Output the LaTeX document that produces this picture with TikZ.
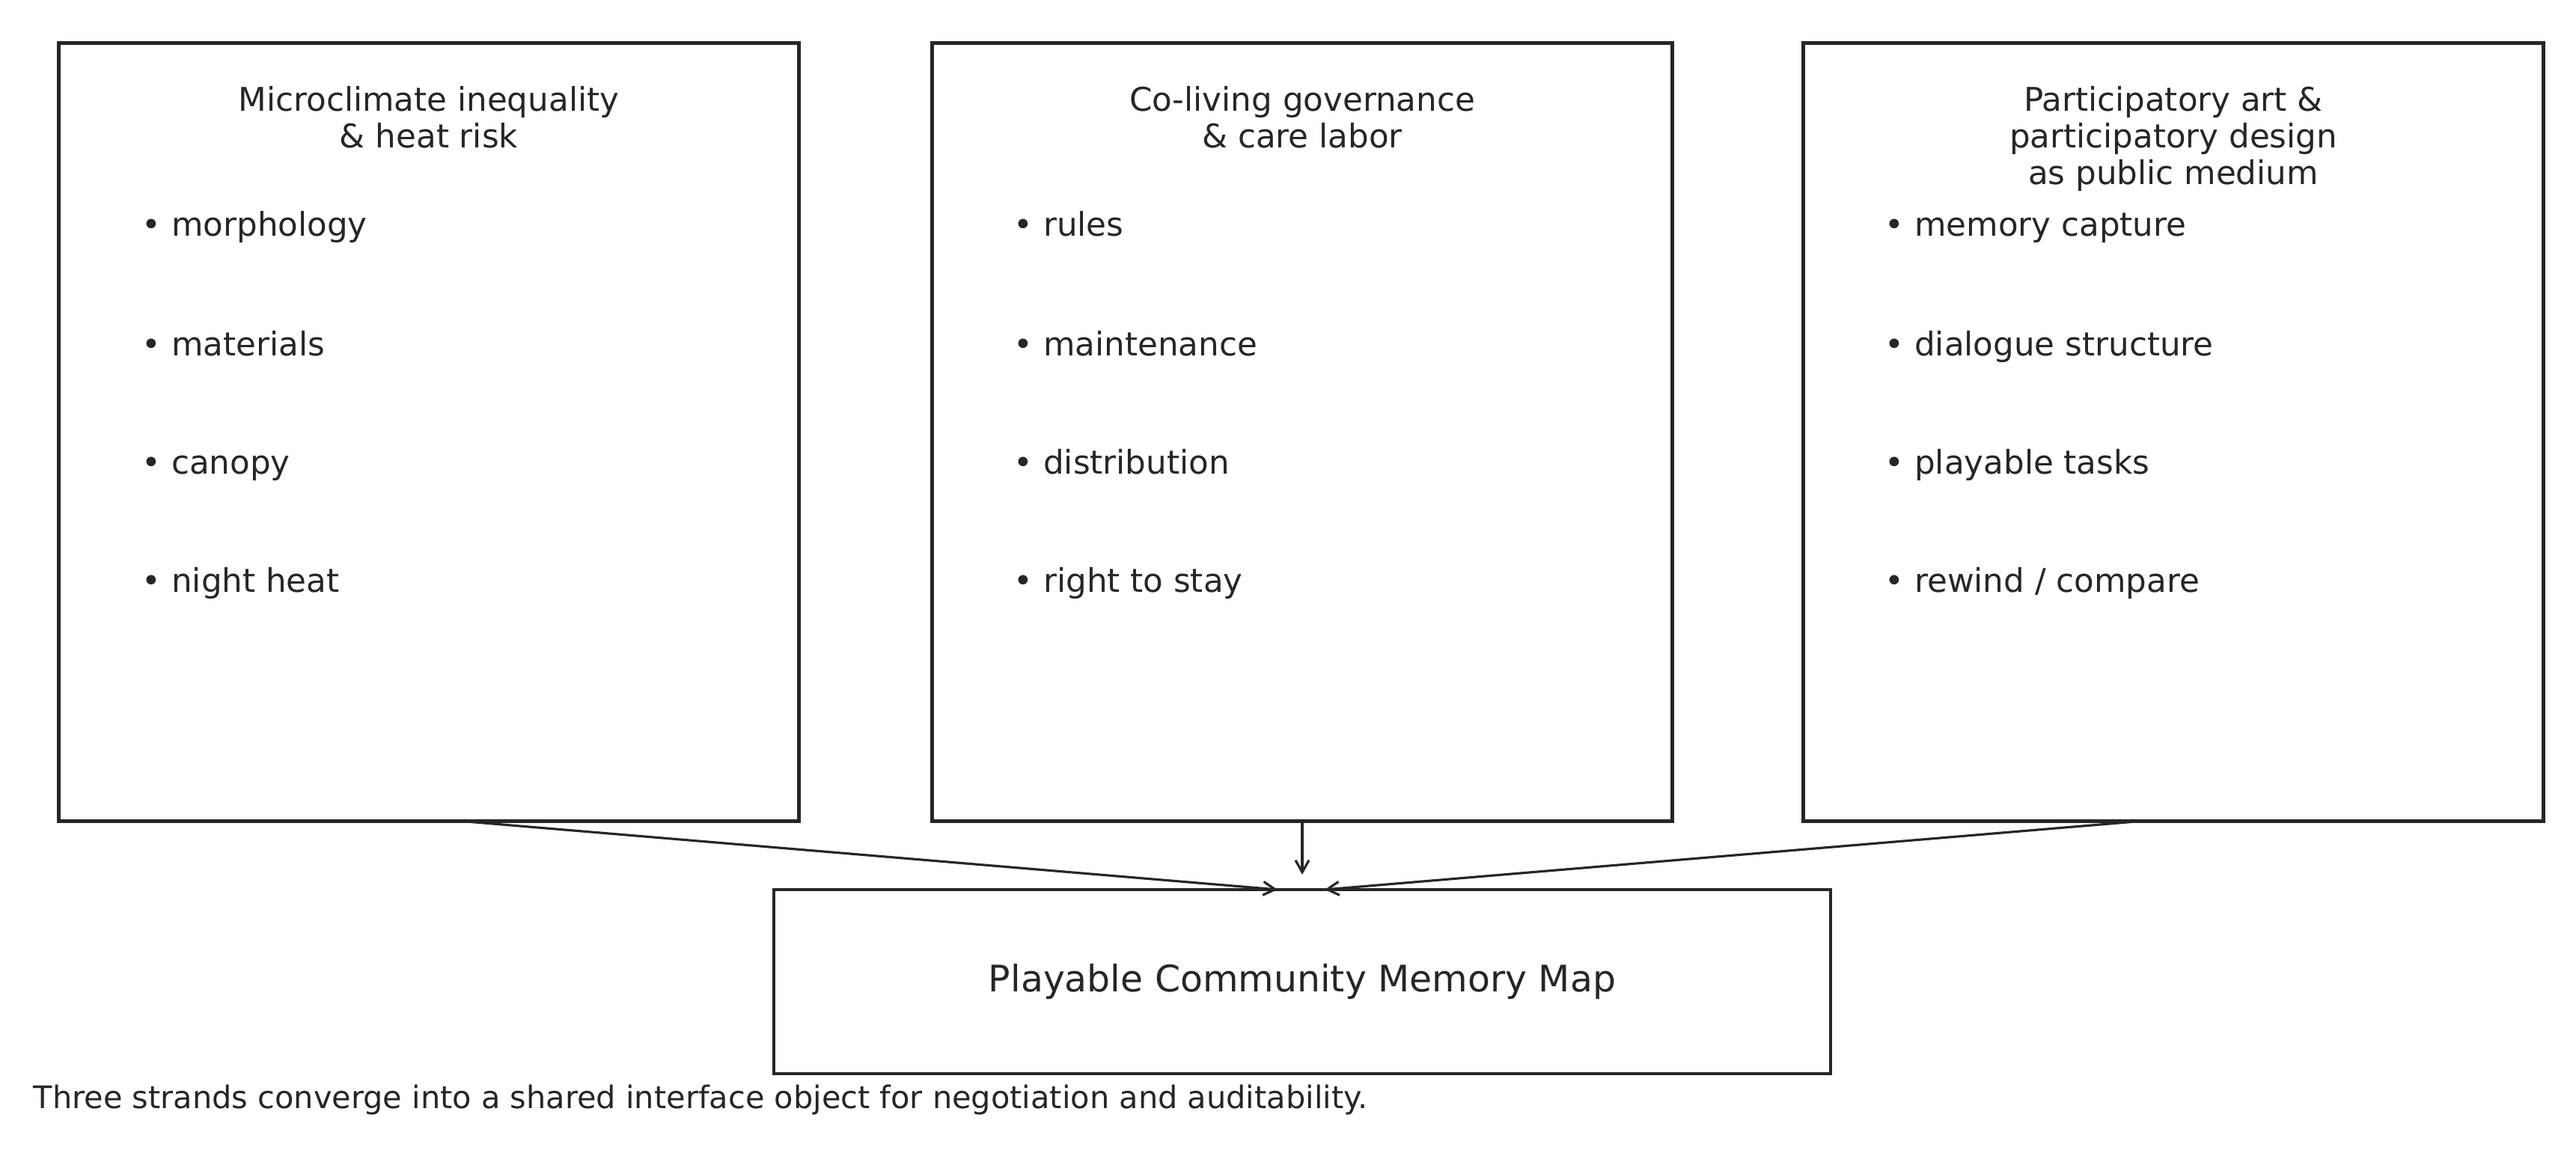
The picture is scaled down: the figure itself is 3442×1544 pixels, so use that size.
\documentclass[tikz,border=0pt]{standalone}
\usepackage{fontspec}
\setmainfont{DejaVu Sans}
\usetikzlibrary{positioning,arrows.meta}

\definecolor{ink}{HTML}{262626}

\tikzset{
  strand/.style={draw=ink, line width=1.3pt, minimum width=9.88cm, minimum height=10.39cm, inner sep=0pt, outer sep=0pt},
  strandtitle/.style={anchor=north, align=center, text=ink, inner sep=0pt, font=\fontsize{12.4}{13.9}\selectfont},
  item/.style={anchor=base west, text=ink, inner sep=0pt, font=\fontsize{12.4}{14}\selectfont},
  feed/.style={draw=ink, line width=0.9pt, -{Straight Barb[length=1.6mm,width=1.8mm]}},
}

\begin{document}
\begin{tikzpicture}[x=0.01cm, y=-0.01cm]
  \useasboundingbox (0,0) rectangle (3442,1544);

  % the three strands
  \node[strand] (clim) at (573,577.5) {};
  \node[strand] (gov) at (1740,577.5) {};
  \node[strand] (art) at (2904,577.5) {};

  \node[strandtitle, below=0.57cm of clim.north] (climt) {Microclimate inequality\\\& heat risk};
  \node[strandtitle, below=0.57cm of gov.north] (govt) {Co-living governance\\\& care labor};
  \node[strandtitle, below=0.57cm of art.north] (artt) {Participatory art \&\\participatory design\\as public medium};

  \node[item] (clim1) at (189,315) {• morphology};
  \node[item] (clim2) at (189,475) {• materials};
  \node[item] (clim3) at (189,633) {• canopy};
  \node[item] (clim4) at (189,791) {• night heat};

  \node[item] (gov1) at (1354,315) {• rules};
  \node[item] (gov2) at (1354,475) {• maintenance};
  \node[item] (gov3) at (1354,633) {• distribution};
  \node[item] (gov4) at (1354,791) {• right to stay};

  \node[item] (art1) at (2518,315) {• memory capture};
  \node[item] (art2) at (2518,475) {• dialogue structure};
  \node[item] (art3) at (2518,633) {• playable tasks};
  \node[item] (art4) at (2518,791) {• rewind / compare};

  % shared object
  \node[draw=ink, line width=1.3pt, minimum width=14.11cm, minimum height=2.46cm, inner sep=0pt, outer sep=0pt,
        text=ink, font=\fontsize{13.9}{16}\selectfont] (map) at (1740,1312) {Playable Community Memory Map};

  \draw[feed] ([xshift=0.42cm]clim.south) -- ([xshift=-0.33cm]map.north);
  \draw[feed, shorten >=0.2cm] (gov.south) -- (map.north);
  \draw[feed] ([xshift=-0.42cm]art.south) -- ([xshift=0.30cm]map.north);

  \node[item, font=\fontsize{11.8}{14}\selectfont] (note) at (44,1481)
    {Three strands converge into a shared interface object for negotiation and auditability.};
\end{tikzpicture}
\end{document}
